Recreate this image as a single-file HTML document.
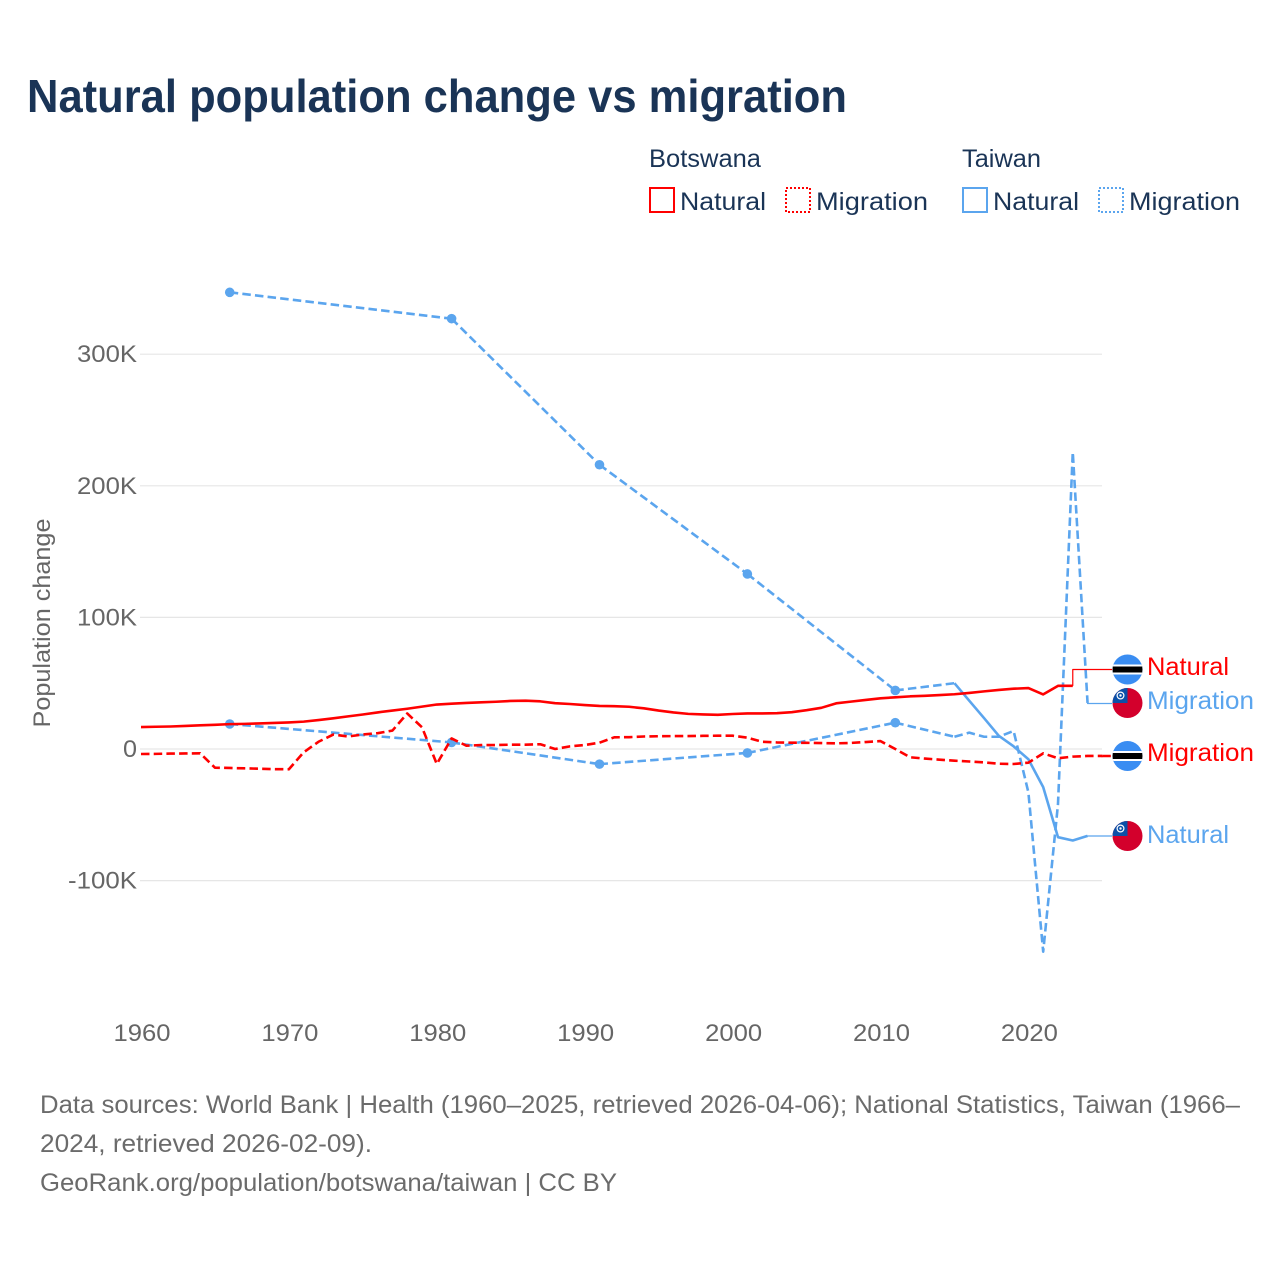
<!DOCTYPE html>
<html lang="en">
<head>
<meta charset="utf-8">
<title>Natural population change vs migration</title>
<style>
html,body{margin:0;padding:0;background:#fff;}
svg{display:block;font-family:"Liberation Sans",sans-serif;}
</style>
</head>
<body>
<svg id="chart" xmlns="http://www.w3.org/2000/svg" width="1280" height="1280" viewBox="0 0 1280 1280">
  <rect width="1280" height="1280" fill="#ffffff"/>
  <text x="27" y="112" font-size="46" font-weight="700" fill="#1a3456" textLength="820" lengthAdjust="spacingAndGlyphs">Natural population change vs migration</text>

  <g font-size="25" fill="#1a3456">
    <text x="649" y="167" textLength="112" lengthAdjust="spacingAndGlyphs">Botswana</text>
    <text x="962" y="167" textLength="79" lengthAdjust="spacingAndGlyphs">Taiwan</text>
    <g>
      <rect x="650" y="188" width="24" height="24" fill="none" stroke="#ff0000" stroke-width="2"/>
      <text x="680" y="210" textLength="86" lengthAdjust="spacingAndGlyphs">Natural</text>
    </g>
    <g>
      <rect x="786" y="188" width="24" height="24" fill="none" stroke="#ff0000" stroke-width="2" stroke-dasharray="2,2"/>
      <text x="816" y="210" textLength="112" lengthAdjust="spacingAndGlyphs">Migration</text>
    </g>
    <g>
      <rect x="963" y="188" width="24" height="24" fill="none" stroke="#5ba5ee" stroke-width="2"/>
      <text x="993" y="210" textLength="86" lengthAdjust="spacingAndGlyphs">Natural</text>
    </g>
    <g>
      <rect x="1099" y="188" width="24" height="24" fill="none" stroke="#5ba5ee" stroke-width="2" stroke-dasharray="2,2"/>
      <text x="1129" y="210" textLength="111" lengthAdjust="spacingAndGlyphs">Migration</text>
    </g>
  </g>

  <g id="grid"></g>
  <g id="yticks" font-size="24" fill="#666666" text-anchor="end"></g>
  <g id="xticks" font-size="24" fill="#666666" text-anchor="middle"></g>
  <text transform="translate(50,623) rotate(-90)" font-size="24" fill="#666666" text-anchor="middle" textLength="209" lengthAdjust="spacingAndGlyphs">Population change</text>
  <g id="series"></g>

  <defs>
    <clipPath id="flag-clip"><circle cx="0" cy="0" r="15"/></clipPath>
    <g id="flag-botswana" clip-path="url(#flag-clip)">
      <rect x="-15" y="-15" width="30" height="30" fill="#3a8df2"/>
      <rect x="-15" y="-5" width="30" height="10" fill="#ffffff"/>
      <rect x="-15" y="-3" width="30" height="6" fill="#000000"/>
    </g>
    <g id="flag-taiwan" clip-path="url(#flag-clip)">
      <rect x="-15" y="-15" width="30" height="30" fill="#d3002c"/>
      <rect x="-15" y="-15" width="15" height="15" fill="#0b50a8"/>
      <circle cx="-7" cy="-7.5" r="3.4" fill="none" stroke="#ffffff" stroke-width="1.2"/>
      <circle cx="-7" cy="-7.5" r="1.2" fill="#ffffff"/>
    </g>
  </defs>

  <g font-size="25">
    <use href="#flag-botswana" x="1127.5" y="669.5"/>
    <text x="1147" y="675" fill="#ff0000" textLength="82" lengthAdjust="spacingAndGlyphs">Natural</text>
    <use href="#flag-taiwan" x="1127.5" y="703"/>
    <text x="1147" y="709" fill="#5ba5ee" textLength="107" lengthAdjust="spacingAndGlyphs">Migration</text>
    <use href="#flag-botswana" x="1127.5" y="756"/>
    <text x="1147" y="761" fill="#ff0000" textLength="107" lengthAdjust="spacingAndGlyphs">Migration</text>
    <use href="#flag-taiwan" x="1127.5" y="836"/>
    <text x="1147" y="843" fill="#5ba5ee" textLength="82" lengthAdjust="spacingAndGlyphs">Natural</text>
  </g>

  <g font-size="25" fill="#6b6b6b">
    <text x="40" y="1113" textLength="1200" lengthAdjust="spacingAndGlyphs">Data sources: World Bank | Health (1960–2025, retrieved 2026-04-06); National Statistics, Taiwan (1966–</text>
    <text x="40" y="1152" textLength="332" lengthAdjust="spacingAndGlyphs">2024, retrieved 2026-02-09).</text>
    <text x="40" y="1191" textLength="577" lengthAdjust="spacingAndGlyphs">GeoRank.org/population/botswana/taiwan | CC BY</text>
  </g>
</svg>
<script>
const xTickYears = [1960, 1970, 1980, 1990, 2000, 2010, 2020];
const yTickValues = [-100, 0, 100, 200, 300];
const yTickLabels = ['-100K', '0', '100K', '200K', '300K'];

const botswanaNaturalYears = [1960,1961,1962,1963,1964,1965,1966,1967,1968,1969,1970,1971,1972,1973,1974,1975,1976,1977,1978,1979,1980,1981,1982,1983,1984,1985,1986,1987,1988,1989,1990,1991,1992,1993,1994,1995,1996,1997,1998,1999,2000,2001,2002,2003,2004,2005,2006,2007,2008,2009,2010,2011,2012,2013,2014,2015,2016,2017,2018,2019,2020,2021,2022,2023];
const botswanaNaturalValues = [16.7,16.9,17.1,17.5,18,18.4,18.9,19.1,19.4,19.8,20.2,20.8,22,23.3,24.8,26.2,27.8,29.2,30.6,32.2,33.8,34.4,35,35.5,35.9,36.5,36.7,36.2,34.8,34.2,33.4,32.7,32.5,32.1,30.9,29.2,27.8,26.7,26.3,26,26.6,27,27,27.2,28,29.5,31.3,34.7,36,37.3,38.5,39.3,40,40.4,41,41.6,42.6,43.8,44.9,45.8,46.3,41.5,48,48];

const botswanaMigrationYears = [1960,1961,1962,1963,1964,1965,1966,1967,1968,1969,1970,1971,1972,1973,1974,1975,1976,1977,1978,1979,1980,1981,1982,1983,1984,1985,1986,1987,1988,1989,1990,1991,1992,1993,1994,1995,1996,1997,1998,1999,2000,2001,2002,2003,2004,2005,2006,2007,2008,2009,2010,2011,2012,2013,2014,2015,2016,2017,2018,2019,2020,2021,2022,2023,2024,2025];
const botswanaMigrationValues = [-3.8,-3.7,-3.5,-3.4,-3.3,-14.2,-14.4,-14.7,-15,-15.3,-15.4,-2.5,5.5,11,9.5,11,12,14,27,16.5,-11.4,8,2.5,3,3,3.3,3.3,3.6,0,2,3,4.8,8.9,9,9.5,9.7,9.8,9.8,10,10.1,10.1,8.6,5.5,5,4.8,4.7,4.5,4.3,4.6,5.3,6,0,-6.3,-7.3,-8.1,-8.9,-9.5,-10.2,-11.2,-11.4,-10.4,-3.3,-7,-5.8,-5.3,-5.3];

const taiwanNaturalYears = [1966,1981,1991,2001,2011,2015,2016,2017,2018,2019,2020,2021,2022,2023,2024];
const taiwanNaturalValues = [347,327,216,133,44.5,50,36.7,23.5,10,2,-7.8,-29,-67,-69.5,-66];

const taiwanMigrationYears = [1966,1981,1991,2001,2011,2015,2016,2017,2018,2019,2020,2021,2022,2023,2024];
const taiwanMigrationValues = [19,5,-11.5,-3,20,9.3,12.4,9.3,9.3,13.7,-33,-154,-42,225.6,35];

const x = year => 141 + (year - 1960) * 14.79;
const y = value => 749 - value * 1.316;
const NS = 'http://www.w3.org/2000/svg';
const RED = '#ff0000';
const BLUE = '#5ba5ee';
const DASH = '8.5,4.2';
const LINE_WIDTH = 2.6;
const gridEl = document.getElementById('grid');
const yTicksEl = document.getElementById('yticks');
const xTicksEl = document.getElementById('xticks');
const seriesEl = document.getElementById('series');
const tickWidths = {1: 14, 4: 60, 5: 69};

yTickValues.forEach((v, i) => {
  const line = document.createElementNS(NS, 'line');
  
  
  line.setAttribute('x1', 140);
  line.setAttribute('x2', 1102);
  line.setAttribute('y1', y(v));
  line.setAttribute('y2', y(v));
  line.setAttribute('stroke', '#e6e6e6');
  line.setAttribute('stroke-width', 1.2);
  gridEl.appendChild(line);
  const t = document.createElementNS(NS, 'text');
  
  
  t.setAttribute('x', 137);
  t.setAttribute('y', y(v) + 8);
  t.setAttribute('textLength', tickWidths[yTickLabels[i].length]);
  t.setAttribute('lengthAdjust', 'spacingAndGlyphs');
  t.textContent = yTickLabels[i];
  yTicksEl.appendChild(t);
});

xTickYears.forEach(year => {
  const t = document.createElementNS(NS, 'text');
  
  
  t.setAttribute('x', x(year) + 1);
  t.setAttribute('y', 1041);
  t.setAttribute('textLength', 57);
  t.setAttribute('lengthAdjust', 'spacingAndGlyphs');
  t.textContent = String(year);
  xTicksEl.appendChild(t);
});

function drawPath(d, color, width, dash, name) {
  const p = document.createElementNS(NS, 'path');
  
  
  p.setAttribute('d', d);
  p.setAttribute('fill', 'none');
  p.setAttribute('stroke', color);
  p.setAttribute('stroke-width', width);
  p.setAttribute('stroke-linejoin', 'round');
  if (dash) p.setAttribute('stroke-dasharray', dash);
  seriesEl.appendChild(p);
}

function drawSeries(years, values, color, isDashed, name) {
  const solid = [];
  const gaps = [];
  for (let i = 1; i < years.length; i++) {
    const seg = 'M' + x(years[i - 1]) + ' ' + y(values[i - 1]) + 'L' + x(years[i]) + ' ' + y(values[i]);
    if (years[i] - years[i - 1] > 1) gaps.push(seg);
    else solid.push(i);
  }
  // consecutive yearly runs are joined so dash patterns flow through them
  let d = '';
  let prev = -2;
  solid.forEach(i => {
    if (i !== prev + 1) d += 'M' + x(years[i - 1]) + ' ' + y(values[i - 1]);
    d += 'L' + x(years[i]) + ' ' + y(values[i]);
    prev = i;
  });
  drawPath(d, color, LINE_WIDTH, isDashed ? DASH : '', name);
  // gaps between sparse observations are always dashed
  if (gaps.length) drawPath(gaps.join(''), color, LINE_WIDTH, DASH, name + '-gap');
  // isolated observations get a marker
  years.forEach((year, i) => {
    const hasPrev = i > 0 && year - years[i - 1] === 1;
    const hasNext = i < years.length - 1 && years[i + 1] - year === 1;
    if (!hasPrev && !hasNext) {
      const c = document.createElementNS(NS, 'circle');
      
      
      c.setAttribute('cx', x(year));
      c.setAttribute('cy', y(values[i]));
      c.setAttribute('r', 4.8);
      c.setAttribute('fill', color);
      seriesEl.appendChild(c);
    }
  });
}

function drawLeader(years, values, labelY, color, name, dash) {
  const lx = x(years[years.length - 1]);
  const ly = y(values[values.length - 1]);
  drawPath('M' + lx + ' ' + ly + 'L' + lx + ' ' + labelY + 'L1112 ' + labelY, color, dash ? LINE_WIDTH : 1.2, dash, name);
}

drawSeries(taiwanNaturalYears, taiwanNaturalValues, BLUE, false, 'line-taiwan-natural');
drawSeries(taiwanMigrationYears, taiwanMigrationValues, BLUE, true, 'line-taiwan-migration');
drawSeries(botswanaNaturalYears, botswanaNaturalValues, RED, false, 'line-botswana-natural');
drawSeries(botswanaMigrationYears, botswanaMigrationValues, RED, true, 'line-botswana-migration');
drawLeader(botswanaNaturalYears, botswanaNaturalValues, 669.5, RED, 'leader-botswana-natural');
drawLeader(taiwanMigrationYears, taiwanMigrationValues, 703.5, BLUE, 'leader-taiwan-migration');
drawLeader(botswanaMigrationYears, botswanaMigrationValues, 756, RED, 'leader-botswana-migration', DASH);
drawLeader(taiwanNaturalYears, taiwanNaturalValues, 836, BLUE, 'leader-taiwan-natural');
</script>
</body>
</html>
